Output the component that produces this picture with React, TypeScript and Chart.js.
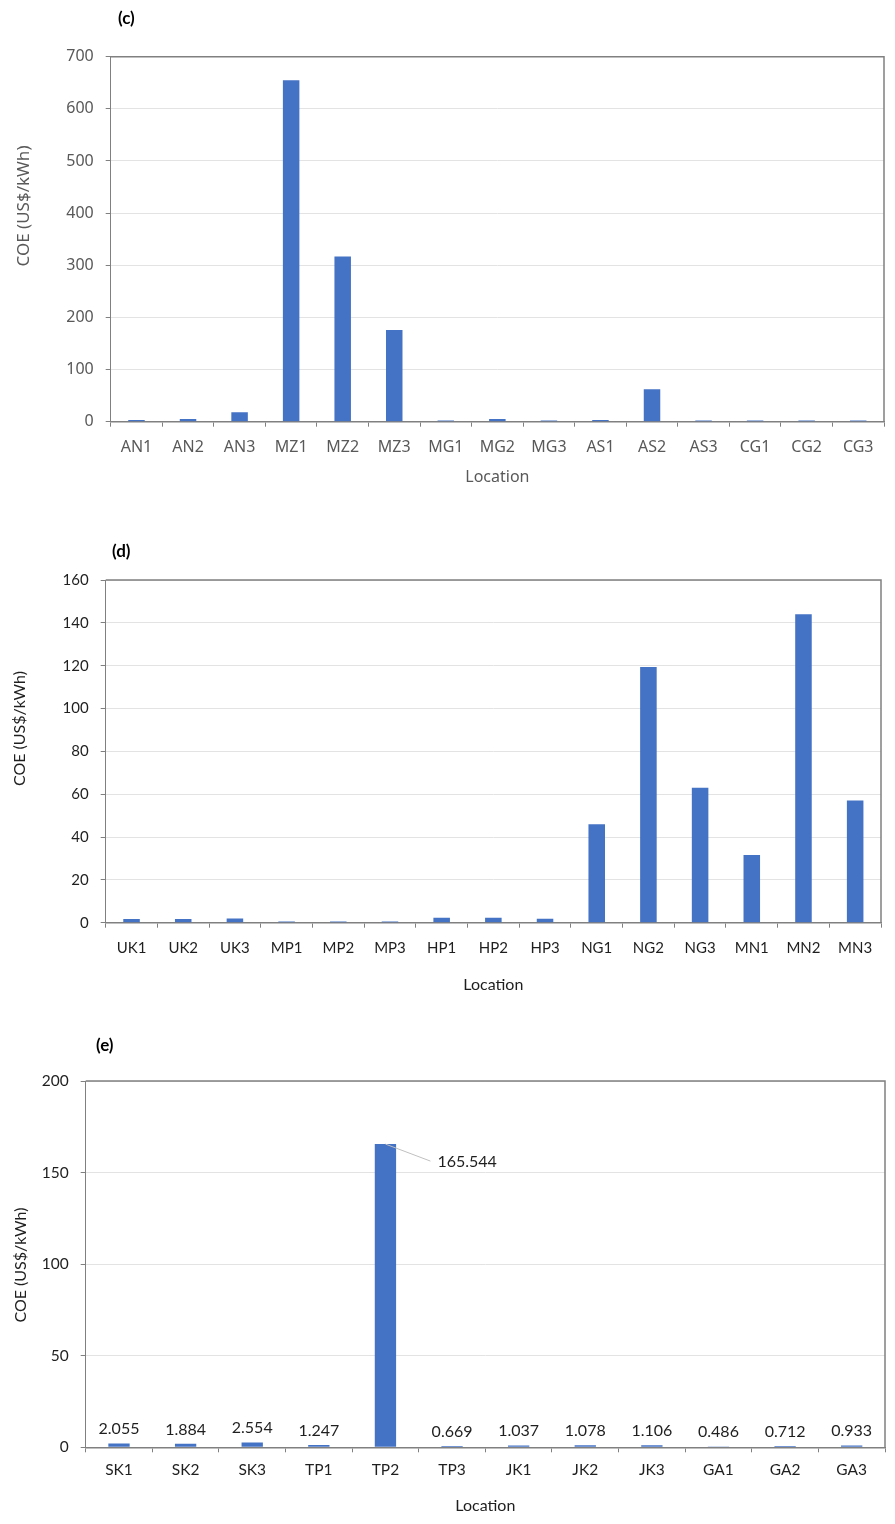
import React, { useEffect, useRef } from "react";
import { Chart, registerables } from "chart.js";

Chart.register(...registerables);

// ---------- data ----------
const cCategories = ["AN1", "AN2", "AN3", "MZ1", "MZ2", "MZ3", "MG1", "MG2", "MG3", "AS1", "AS2", "AS3", "CG1", "CG2", "CG3"];
const cValues = [3.3, 5, 18, 655, 317, 176, 2.5, 5, 2.5, 3.5, 62, 2.5, 2.5, 2.5, 2.5];
const cAxisMax = 700;
const cAxisStep = 100;

const dCategories = ["UK1", "UK2", "UK3", "MP1", "MP2", "MP3", "HP1", "HP2", "HP3", "NG1", "NG2", "NG3", "MN1", "MN2", "MN3"];
const dValues = [1.7, 1.7, 2.0, 0.6, 0.6, 0.6, 2.3, 2.3, 1.9, 46, 119.4, 63, 31.6, 144, 57];
const dAxisMax = 160;
const dAxisStep = 20;

const eCategories = ["SK1", "SK2", "SK3", "TP1", "TP2", "TP3", "JK1", "JK2", "JK3", "GA1", "GA2", "GA3"];
const eValues = [2.055, 1.884, 2.554, 1.247, 165.544, 0.669, 1.037, 1.078, 1.106, 0.486, 0.712, 0.933];
const eAxisMax = 200;
const eAxisStep = 50;
const eCalloutCategory = "TP2";

const yTitleText = "COE (US$/kWh)";
const xTitleText = "Location";

// ---------- styles ----------
const BAR = "#4472C4";
const GRID = "#e3e3e3";
const AXIS = "#808080";
const GRAY_TEXT = "#595959";
const DARK_TEXT = "#1f1f1f";
const NOTO = "'Noto Sans', 'Open Sans', sans-serif";
const LATO = "Lato, 'Noto Sans', sans-serif";

type PanelCfg = {
  categories: string[];
  values: number[];
  max: number;
  step: number;
  height: number;
  family: string;
  textColor: string;
  tickSize: number;
  xTickSize: number;
  titleSize: number;
  yTitleSize: number;
  yWidth: number;
  xHeight: number;
  padTop: number;
  padRight: number;
  xTickPad: number;
  xTitlePadBottom: number;
  panel: string;
  panelX: number;
  panelY: number;
  yTitleX: number;
  yTitleY: number;
  extraPlugins?: any[];
};

function frameAndTextPlugin(cfg: PanelCfg) {
  return {
    id: "frameAndText",
    afterDraw(chart: any) {
      const { ctx, chartArea } = chart;
      ctx.save();
      // top + right frame
      ctx.strokeStyle = AXIS;
      ctx.lineWidth = 1.5;
      ctx.beginPath();
      ctx.moveTo(chartArea.left, chartArea.top);
      ctx.lineTo(chartArea.right, chartArea.top);
      ctx.lineTo(chartArea.right, chartArea.bottom);
      ctx.stroke();
      // panel label
      ctx.fillStyle = "#000";
      ctx.font = `bold 17px ${LATO}`;
      ctx.textAlign = "left";
      ctx.textBaseline = "middle";
      ctx.fillText(cfg.panel, cfg.panelX, cfg.panelY);
      // y title
      ctx.fillStyle = cfg.textColor;
      ctx.font = `${cfg.yTitleSize}px ${cfg.family}`;
      ctx.translate(cfg.yTitleX, cfg.yTitleY);
      ctx.rotate(-Math.PI / 2);
      ctx.textAlign = "center";
      ctx.textBaseline = "middle";
      ctx.fillText(yTitleText, 0, 0);
      ctx.restore();
    },
  };
}

const eLabelPlugin = {
  id: "eLabels",
  afterDatasetsDraw(chart: any) {
    const meta = chart.getDatasetMeta(0);
    const ctx = chart.ctx;
    ctx.save();
    ctx.font = `16px ${LATO}`;
    ctx.fillStyle = DARK_TEXT;
    meta.data.forEach((bar: any, i: number) => {
      const text = eValues[i].toFixed(3);
      const { x, y } = bar.getProps(["x", "y"], true);
      if (eCategories[i] === eCalloutCategory) {
        ctx.strokeStyle = "#c0c0c0";
        ctx.lineWidth = 1;
        ctx.beginPath();
        ctx.moveTo(x, y);
        ctx.lineTo(x + 45, y + 17);
        ctx.stroke();
        ctx.textAlign = "left";
        ctx.textBaseline = "middle";
        ctx.fillText(text, x + 52, y + 18);
      } else {
        ctx.textAlign = "center";
        ctx.textBaseline = "middle";
        ctx.fillText(text, x, y - 14.5);
      }
    });
    ctx.restore();
  },
};

function Panel({ cfg, top }: { cfg: PanelCfg; top: number }) {
  const ref = useRef<HTMLCanvasElement | null>(null);
  useEffect(() => {
    if (!ref.current) return;
    const chart = new Chart(ref.current, {
      type: "bar",
      data: {
        labels: cfg.categories,
        datasets: [
          {
            data: cfg.values,
            backgroundColor: BAR,
            borderWidth: 0,
            barPercentage: 0.32,
            categoryPercentage: 1,
          },
        ],
      },
      options: {
        animation: false,
        responsive: true,
        maintainAspectRatio: false,
        layout: { padding: { left: 0, top: cfg.padTop, right: cfg.padRight, bottom: 0 } },
        plugins: { legend: { display: false }, tooltip: { enabled: false }, title: { display: false } },
        scales: {
          x: {
            type: "category",
            offset: true,
            grid: {
              display: true,
              offset: true,
              drawOnChartArea: false,
              drawTicks: true,
              tickLength: 5,
              color: AXIS,
              tickColor: AXIS,
            },
            border: { display: true, color: AXIS, width: 1.5 },
            ticks: {
              autoSkip: false,
              maxRotation: 0,
              padding: cfg.xTickPad,
              color: cfg.textColor,
              font: { family: cfg.family, size: cfg.xTickSize },
            },
            title: {
              display: true,
              text: xTitleText,
              color: cfg.textColor,
              font: { family: cfg.family, size: cfg.titleSize },
              padding: { top: 0, bottom: cfg.xTitlePadBottom },
            },
            afterFit: (s: any) => {
              s.height = cfg.xHeight;
            },
          },
          y: {
            min: 0,
            max: cfg.max,
            ticks: {
              stepSize: cfg.step,
              padding: 12,
              color: cfg.textColor,
              font: { family: cfg.family, size: cfg.tickSize },
            },
            grid: {
              drawTicks: true,
              tickLength: 5,
              tickColor: AXIS,
              color: (ctx: any) => (ctx.tick && ctx.tick.value === 0 ? "rgba(0,0,0,0)" : GRID),
            },
            border: { display: true, color: AXIS, width: 1 },
            afterFit: (s: any) => {
              s.width = cfg.yWidth;
            },
          },
        },
      } as any,
      plugins: [frameAndTextPlugin(cfg), ...(cfg.extraPlugins || [])],
    });
    return () => chart.destroy();
  }, []);
  return (
    <div style={{ position: "absolute", left: 0, top, width: 895, height: cfg.height }}>
      <canvas ref={ref} />
    </div>
  );
}

const cCfg: PanelCfg = {
  categories: cCategories,
  values: cValues,
  max: cAxisMax,
  step: cAxisStep,
  height: 500,
  family: NOTO,
  textColor: GRAY_TEXT,
  tickSize: 16,
  xTickSize: 16,
  titleSize: 16,
  yTitleSize: 17,
  yWidth: 110.7,
  xHeight: 78.3,
  padTop: 56.7,
  padRight: 11,
  xTickPad: 11,
  xTitlePadBottom: 13,
  panel: "(c)",
  panelX: 118,
  panelY: 19,
  yTitleX: 24.5,
  yTitleY: 206,
};

const dCfg: PanelCfg = {
  categories: dCategories,
  values: dValues,
  max: dAxisMax,
  step: dAxisStep,
  height: 510,
  family: LATO,
  textColor: DARK_TEXT,
  tickSize: 15,
  xTickSize: 15,
  titleSize: 16,
  yTitleSize: 16,
  yWidth: 105.7,
  xHeight: 87.3,
  padTop: 80,
  padRight: 14,
  xTickPad: 11.5,
  xTitlePadBottom: 16,
  panel: "(d)",
  panelX: 112,
  panelY: 52,
  yTitleX: 19.7,
  yTitleY: 228.5,
};

const eCfg: PanelCfg = {
  categories: eCategories,
  values: eValues,
  max: eAxisMax,
  step: eAxisStep,
  height: 514,
  family: LATO,
  textColor: DARK_TEXT,
  tickSize: 15.5,
  xTickSize: 15.5,
  titleSize: 16,
  yTitleSize: 16,
  yWidth: 85.7,
  xHeight: 76.7,
  padTop: 71,
  padRight: 10,
  xTickPad: 8.5,
  xTitlePadBottom: 8.4,
  panel: "(e)",
  panelX: 96,
  panelY: 36,
  yTitleX: 21,
  yTitleY: 255,
  extraPlugins: [eLabelPlugin],
};

export default function App() {
  return (
    <div style={{ position: "absolute", left: 0, top: 0, width: 895, height: 1524, background: "#fff" }}>
      <Panel cfg={cCfg} top={0} />
      <Panel cfg={dCfg} top={500} />
      <Panel cfg={eCfg} top={1010} />
    </div>
  );
}
